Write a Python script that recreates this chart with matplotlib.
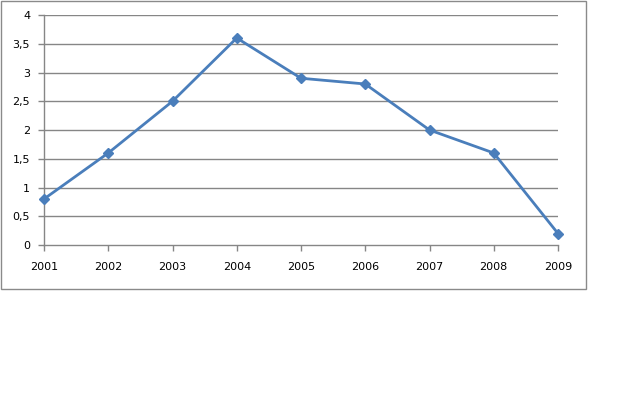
import matplotlib
matplotlib.use('Agg')
import matplotlib.pyplot as plt
from matplotlib.patches import Rectangle

years = [2001, 2002, 2003, 2004, 2005, 2006, 2007, 2008, 2009]
values = [0.8, 1.6, 2.5, 3.6, 2.9, 2.8, 2.0, 1.6, 0.2]
yticks = [0, 0.5, 1, 1.5, 2, 2.5, 3, 3.5, 4]
ylabels = ['0', '0,5', '1', '1,5', '2', '2,5', '3', '3,5', '4']

fig = plt.figure(figsize=(6.4, 4.0), dpi=100)
fig.patch.set_facecolor('white')

# outer chart border
fig.patches.append(Rectangle((1/640, 1 - 289/400), 585/640, 288/400,
                             transform=fig.transFigure, fill=False,
                             edgecolor='#8a8a8a', linewidth=1))

ax = fig.add_axes([44/640, 1 - 245/400, (558 - 44)/640, (245 - 15)/400])
gray = '#868686'
ax.set_xlim(years[0], years[-1])
ax.set_ylim(0, 4)
ax.set_yticks(yticks)
ax.set_yticklabels(ylabels)
ax.set_xticks(years)
ax.set_xticklabels([str(y) for y in years])
for y in yticks[1:]:
    ax.axhline(y, color=gray, linewidth=1, zorder=1)

for s in ['top', 'right']:
    ax.spines[s].set_visible(False)
for s in ['left', 'bottom']:
    ax.spines[s].set_color(gray)
    ax.spines[s].set_linewidth(1)

ax.tick_params(axis='both', colors=gray, labelcolor='black', labelsize=8,
               length=4, width=1)
ax.tick_params(axis='y', pad=6)
ax.tick_params(axis='x', pad=8)

ax.plot(years, values, color='#4a7ebb', linewidth=2.0, marker='D',
        markersize=5.5, zorder=3, clip_on=False)

fig.savefig('out.png', dpi=100)
